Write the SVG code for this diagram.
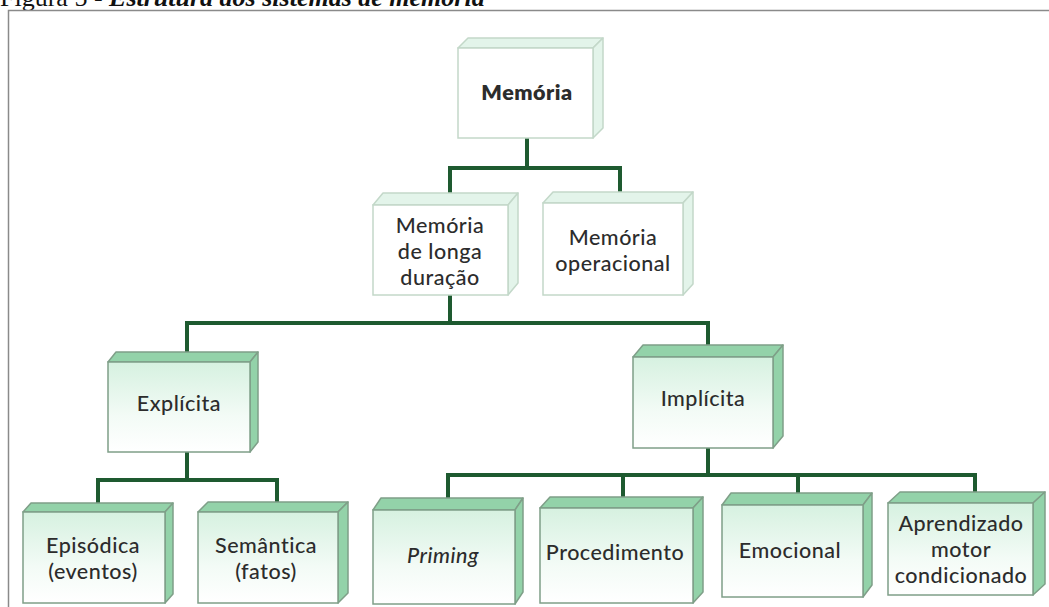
<svg xmlns="http://www.w3.org/2000/svg" width="1049" height="607" viewBox="0 0 1049 607">
<defs>
<linearGradient id="gFront" x1="0" y1="0" x2="0" y2="1">
<stop offset="0" stop-color="#d6f1e0"/>
<stop offset="0.6" stop-color="#f3fbf6"/>
<stop offset="1" stop-color="#ffffff"/>
</linearGradient>
<style>
.cap{font-family:"Liberation Serif","Times New Roman",serif;font-size:26px;fill:#111}
.t{font-family:Lato,"Open Sans",sans-serif;font-size:21.5px;font-weight:500;letter-spacing:0.5px;fill:#2c2c2c;text-anchor:middle;dominant-baseline:central}
.b{font-weight:800}
.i{font-style:italic}
.lf{fill:#ffffff;stroke:#c3d8c9;stroke-width:1.5}
.lt{fill:#e3f4ea;stroke:#c3d8c9;stroke-width:1.5;stroke-linejoin:round}
.df{fill:url(#gFront);stroke:#7f9f88;stroke-width:1.5}
.dt{fill:#93d2a9;stroke:#7f9f88;stroke-width:1.5;stroke-linejoin:round}
.con path{fill:none;stroke:#1e5a30;stroke-width:4;stroke-linejoin:miter}
</style>
</defs>
<rect width="1049" height="607" fill="#ffffff"/>
<text class="cap" x="0" y="6">Figura 5 - <tspan font-style="italic" font-weight="bold">Estrutura dos sistemas de memória</tspan></text>
<path d="M8.5,607 V10.5 H1049" fill="none" stroke="#8a8a8a" stroke-width="1.5"/>
<g class="con">
<path d="M527,138 V168 M450,193 V168 H620 V192"/>
<path d="M450,295 V323 M187,352 V323 H708 V345"/>
<path d="M187,452 V480 M98,503 V480 H277 V502"/>
<path d="M708,448 V475 M448,498 V475 H975 V492 M623,475 V497 M798,475 V493"/>
</g>
<g id="memoria">
<polygon class="lt" points="458,48 468,38 603,38 593,48"/>
<polygon class="lt" points="593,48 603,38 603,128 593,138"/>
<rect class="lf" x="458" y="48" width="135" height="90"/>
<text class="t b" x="527" y="92">Memória</text>
</g>
<g id="longa">
<polygon class="lt" points="373,205 383,193 518,193 508,205"/>
<polygon class="lt" points="508,205 518,193 518,283 508,295"/>
<rect class="lf" x="373" y="205" width="135" height="90"/>
<text class="t" x="440" y="225">Memória<tspan x="440" dy="26">de longa</tspan><tspan x="440" dy="26">duração</tspan></text>
</g>
<g id="operacional">
<polygon class="lt" points="543,203 553,192 693,192 683,203"/>
<polygon class="lt" points="683,203 693,192 693,284 683,295"/>
<rect class="lf" x="543" y="203" width="140" height="92"/>
<text class="t" x="613" y="237">Memória<tspan x="613" dy="26">operacional</tspan></text>
</g>
<g id="explicita">
<polygon class="dt" points="108,362 116,352 258,352 250,362"/>
<polygon class="dt" points="250,362 258,352 258,442 250,452"/>
<rect class="df" x="108" y="362" width="142" height="90"/>
<text class="t" x="179" y="403">Explícita</text>
</g>
<g id="implicita">
<polygon class="dt" points="633,357 643,345 783,345 773,357"/>
<polygon class="dt" points="773,357 783,345 783,436 773,448"/>
<rect class="df" x="633" y="357" width="140" height="91"/>
<text class="t" x="703" y="398">Implícita</text>
</g>
<g id="episodica">
<polygon class="dt" points="23,512 31,503 173,503 165,512"/>
<polygon class="dt" points="165,512 173,503 173,594 165,603"/>
<rect class="df" x="23" y="512" width="142" height="91"/>
<text class="t" x="93" y="545">Episódica<tspan x="93" dy="26">(eventos)</tspan></text>
</g>
<g id="semantica">
<polygon class="dt" points="198,512 208,502 348,502 338,512"/>
<polygon class="dt" points="338,512 348,502 348,593 338,603"/>
<rect class="df" x="198" y="512" width="140" height="91"/>
<text class="t" x="266" y="545">Semântica<tspan x="266" dy="26">(fatos)</tspan></text>
</g>
<g id="priming">
<polygon class="dt" points="373,510 381,498 523,498 515,510"/>
<polygon class="dt" points="515,510 523,498 523,592 515,604"/>
<rect class="df" x="373" y="510" width="142" height="94"/>
<text class="t i" x="443" y="555">Priming</text>
</g>
<g id="procedimento">
<polygon class="dt" points="540,508 550,497 703,497 693,508"/>
<polygon class="dt" points="693,508 703,497 703,592 693,603"/>
<rect class="df" x="540" y="508" width="153" height="95"/>
<text class="t" x="615" y="552">Procedimento</text>
</g>
<g id="emocional">
<polygon class="dt" points="722,505 731,493 872,493 863,505"/>
<polygon class="dt" points="863,505 872,493 872,585 863,597"/>
<rect class="df" x="722" y="505" width="141" height="92"/>
<text class="t" x="790" y="550">Emocional</text>
</g>
<g id="aprendizado">
<polygon class="dt" points="888,503 900,492 1045,492 1033,503"/>
<polygon class="dt" points="1033,503 1045,492 1045,584 1033,595"/>
<rect class="df" x="888" y="503" width="145" height="92"/>
<text class="t" x="961" y="523">Aprendizado<tspan x="961" dy="26">motor</tspan><tspan x="961" dy="26">condicionado</tspan></text>
</g>
</svg>
